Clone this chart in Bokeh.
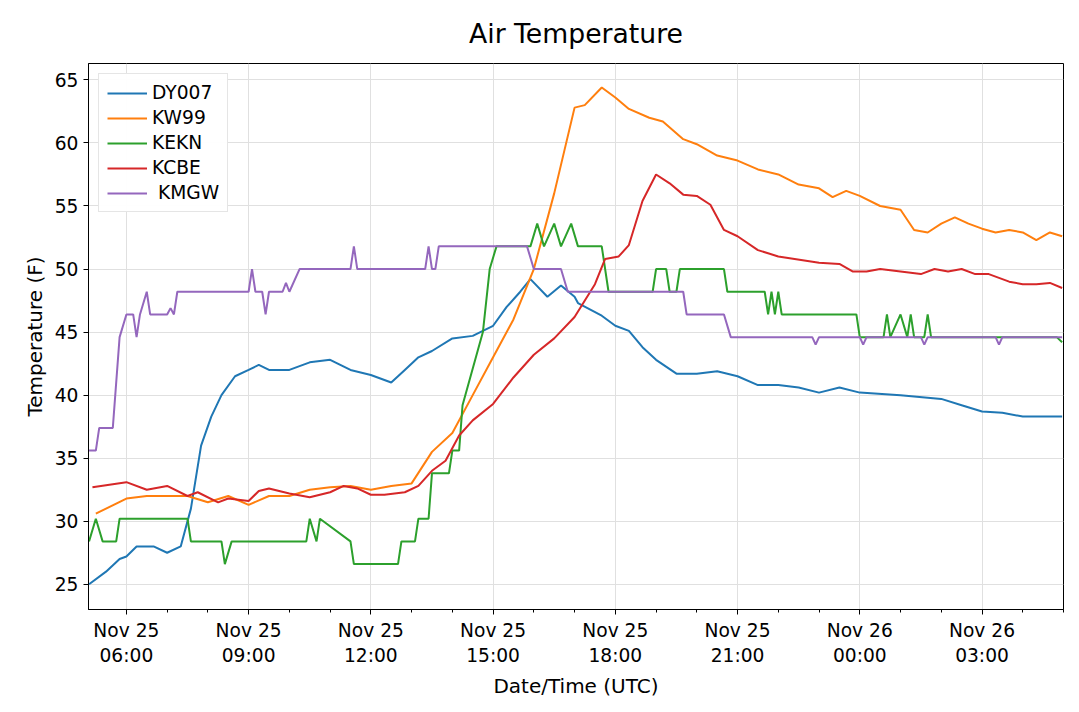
from bokeh.plotting import figure
from bokeh.models import FixedTicker, Legend, LegendItem, Range1d
from bokeh.embed import file_html
from bokeh.resources import INLINE

dy_t = ["05:05","05:30","05:50","06:00","06:15","06:40","07:00","07:20","07:35","07:50","08:05","08:20","08:40","09:00","09:15","09:30","10:00","10:30","11:00","11:30","12:00","12:30","12:50","13:10","13:30","14:00","14:30","15:00","15:20","15:40","15:55","16:20","16:40","17:00","17:05","17:40","18:00","18:20","18:40","19:00","19:30","20:00","20:30","21:00","21:30","22:00","22:30","23:00","23:30","00:00","01:00","02:00","02:30","03:00","03:30","04:00","04:58"]
dy_v = [25,26,27,27.2,28,28,27.5,28,31,36,38.3,40,41.5,42,42.4,42,42,42.6,42.8,42,41.6,41,42,43,43.5,44.5,44.7,45.5,47,48.2,49.2,47.8,48.7,47.8,47.3,46.3,45.5,45.1,43.8,42.8,41.7,41.7,41.9,41.5,40.8,40.8,40.6,40.2,40.6,40.2,40,39.7,39.2,38.7,38.6,38.3,38.3]

kw_t = ["05:15","06:00","06:30","07:30","08:00","08:30","09:00","09:30","10:00","10:30","11:00","11:30","12:00","12:30","13:00","13:30","14:00","14:30","15:00","15:30","16:00","16:30","17:00","17:15","17:40","18:00","18:20","18:50","19:10","19:40","20:00","20:30","21:00","21:30","22:00","22:30","23:00","23:20","23:40","00:00","00:30","01:00","01:20","01:40","02:00","02:20","02:40","03:00","03:20","03:40","04:00","04:20","04:40","04:58"]
kw_v = [30.6,31.8,32,32,31.5,32,31.3,32,32,32.5,32.7,32.8,32.5,32.8,33,35.5,37,40,43,46,50,56,62.8,63,64.4,63.6,62.7,62,61.7,60.3,59.9,59,58.6,57.9,57.5,56.7,56.4,55.7,56.2,55.8,55,54.7,53.1,52.9,53.6,54.1,53.6,53.2,52.9,53.1,52.9,52.3,52.9,52.6]

ke_t = ["05:05","05:15","05:25","05:45","05:50","07:30","07:35","08:20","08:25","08:35","10:25","10:30","10:40","10:45","11:30","11:35","12:40","12:45","13:05","13:10","13:25","13:30","13:55","14:00","14:10","14:15","14:45","14:55","15:05","15:55","16:05","16:15","16:30","16:40","16:55","17:05","17:40","17:50","18:55","19:00","19:15","19:20","19:30","19:35","20:40","20:45","21:40","21:45","21:50","21:55","22:00","22:05","23:55","00:00","00:35","00:40","00:45","01:00","01:10","01:15","01:20","01:35","01:40","01:45","04:50","04:58"]
ke_v = [28.4,30.2,28.4,28.4,30.2,30.2,28.4,28.4,26.6,28.4,28.4,30.2,28.4,30.2,28.4,26.6,26.6,28.4,28.4,30.2,30.2,33.8,33.8,35.6,35.6,39.2,45,50,51.8,51.8,53.6,51.8,53.6,51.8,53.6,51.8,51.8,48.2,48.2,50,50,48.2,48.2,50,50,48.2,48.2,46.4,48.2,46.4,48.2,46.4,46.4,44.6,44.6,46.4,44.6,46.4,44.6,46.4,44.6,44.6,46.4,44.6,44.6,44.2]

kc_t = ["05:10","06:00","06:30","07:00","07:30","07:45","08:15","08:30","09:00","09:15","09:30","10:00","10:30","11:00","11:20","11:40","12:00","12:20","12:50","13:10","13:30","13:50","14:10","14:30","15:00","15:30","16:00","16:30","17:00","17:30","17:45","18:05","18:20","18:40","19:00","19:20","19:40","20:00","20:20","20:40","21:00","21:30","22:00","23:00","23:30","23:50","00:10","00:30","01:00","01:30","01:50","02:10","02:30","02:50","03:10","03:40","04:00","04:20","04:40","04:58"]
kc_v = [32.7,33.1,32.5,32.8,32,32.3,31.5,31.8,31.6,32.4,32.6,32.2,31.9,32.3,32.8,32.6,32.1,32.1,32.3,32.8,34,34.8,36.8,38,39.3,41.4,43.2,44.5,46.2,48.8,50.8,51,51.9,55.4,57.5,56.8,55.9,55.8,55.1,53.1,52.6,51.5,51,50.5,50.4,49.8,49.8,50,49.8,49.6,50,49.8,50,49.6,49.6,49,48.8,48.8,48.9,48.5]

km_t = ["05:05","05:15","05:20","05:40","05:50","06:00","06:10","06:15","06:20","06:30","06:35","07:00","07:05","07:10","07:15","09:00","09:05","09:10","09:20","09:25","09:30","09:50","09:55","10:00","10:15","11:30","11:35","11:40","13:20","13:25","13:30","13:35","13:40","15:50","16:00","16:40","16:50","19:40","19:45","20:40","20:50","22:50","22:55","23:00","00:00","00:05","00:10","01:30","01:35","01:40","03:20","03:25","03:30","04:58"]
km_v = [35.6,35.6,37.4,37.4,44.6,46.4,46.4,44.6,46.4,48.2,46.4,46.4,46.9,46.4,48.2,48.2,50,48.2,48.2,46.4,48.2,48.2,48.9,48.2,50,50,51.8,50,50,51.8,50,50,51.8,51.8,50,50,48.2,48.2,46.4,46.4,44.6,44.6,44,44.6,44.6,44,44.6,44.6,44,44.6,44.6,44,44.6,44.6]

names = ["DY007", "KW99", "KEKN", "KCBE", " KMGW"]
colors = ["#1f77b4", "#ff7f0e", "#2ca02c", "#d62728", "#9467bd"]
series = [(dy_t, dy_v), (kw_t, kw_v), (ke_t, ke_v), (kc_t, kc_v), (km_t, km_v)]

tick_hours = [6, 9, 12, 15, 18, 21, 24, 27]
tick_labels = ["Nov 25\n06:00", "Nov 25\n09:00", "Nov 25\n12:00", "Nov 25\n15:00",
               "Nov 25\n18:00", "Nov 25\n21:00", "Nov 26\n00:00", "Nov 26\n03:00"]
y_ticks = [25, 30, 35, 40, 45, 50, 55, 60, 65]

def to_h(ts):
    out = []
    for t in ts:
        h, m = map(int, t.split(":"))
        v = h + m / 60
        if out and (v < out[-1] - 0.01):
            v += 24
        out.append(v)
    return out

p = figure(width=1068, height=700, output_backend="svg", toolbar_location=None,
           x_range=Range1d(5.07, 29.0), y_range=Range1d(23.0, 66.3),
           min_border_left=88, min_border_right=5, min_border_top=10, min_border_bottom=10)
p.title.text = "Air Temperature"
p.title.align = "center"
p.title.text_font = "DejaVu Sans"
p.title.text_font_size = "20pt"
p.title.text_font_style = "normal"
p.title.text_color = "black"
p.title.standoff = 14
p.title.padding = 8

items = []
for (ts, vs), n, c in zip(series, names, colors):
    r = p.line(to_h(ts), vs, line_color=c, line_width=2)
    items.append(LegendItem(label=n, renderers=[r]))

leg = Legend(items=items, location="top_left", label_text_font="DejaVu Sans",
             label_text_font_size="14pt", label_text_color="black", border_line_color="#cccccc",
             glyph_width=40, spacing=4, padding=8, margin=10)
p.add_layout(leg, "center")

p.xaxis.ticker = FixedTicker(ticks=tick_hours, minor_ticks=list(range(5, 30)))
p.xaxis.major_label_overrides = {h: l for h, l in zip(tick_hours, tick_labels)}
p.yaxis.ticker = FixedTicker(ticks=y_ticks)
for ax in (p.xaxis, p.yaxis):
    ax.major_label_text_font = "DejaVu Sans"
    ax.major_label_text_font_size = "14pt"
    ax.major_label_text_color = "black"
    ax.axis_label_text_font = "DejaVu Sans"
    ax.axis_label_text_font_size = "15pt"
    ax.axis_label_text_font_style = "normal"
    ax.axis_label_text_color = "black"
    ax.axis_line_color = "black"
    ax.major_tick_line_color = "black"
    ax.major_tick_in = 0
    ax.major_tick_out = 5
    ax.minor_tick_in = 0
    ax.minor_tick_out = 3
p.yaxis.minor_tick_line_color = None
p.xaxis.axis_label = "Date/Time (UTC)"
p.yaxis.axis_label = "Temperature (F)"
p.grid.grid_line_color = "#e0e0e0"
p.outline_line_color = "black"

open("out.html", "w").write(file_html(p, INLINE))
